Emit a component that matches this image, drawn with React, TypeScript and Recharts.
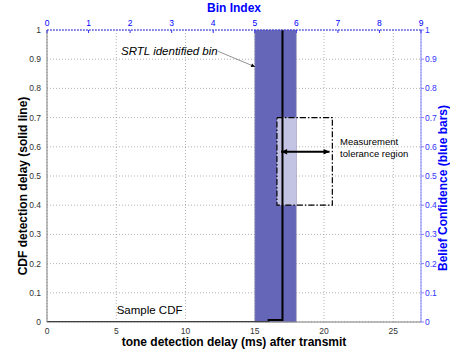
import React from 'react';
import {
  ComposedChart,
  Line,
  XAxis,
  YAxis,
  CartesianGrid,
  ReferenceArea,
  ReferenceLine,
  ReferenceDot,
  Label,
} from 'recharts';

// CDF of tone detection delay (solid line)
const delayMs = [0, 16, 16, 17, 17];
const cdfValues = [0, 0, 0.007, 0.007, 1];

// Belief confidence (blue bars)
const binIndex = [5];
const beliefConfidence = [1];
const msPerBin = 3;

// Ticks
const msTicks = [0, 5, 10, 15, 20, 25];
const binTicks = [0, 1, 2, 3, 4, 5, 6, 7, 8, 9];
const cdfTicks = [0, 0.1, 0.2, 0.3, 0.4, 0.5, 0.6, 0.7, 0.8, 0.9, 1];
const confTicks = [0, 0.1, 0.2, 0.3, 0.4, 0.5, 0.6, 0.7, 0.8, 0.9, 1];

// Annotations (data coordinates)
const toleranceX = [16.6, 20.6];
const toleranceY = [0.4, 0.7];
const toleranceArrowX = [16.9, 20.4];
const toleranceArrowY = [0.583, 0.583];
const srtlArrowX = [12.35, 15.02];
const srtlArrowY = [0.927, 0.874];
const srtlLabelPos = [5.34, 0.916];
const measLabelPos = [21.16, 0.606];
const sampleLabelPos = [5.03, 0.026];

const cdfData = delayMs.map((t, i) => ({ t, cdf: cdfValues[i] }));

const FONT = '"Liberation Sans", Arial, Helvetica, sans-serif';
const BLUE = '#0000ff';

const TopTick = (props: any) => {
  const { x, y, payload } = props;
  return (
    <g>
      <line x1={x} x2={x} y1={y} y2={y + 3} stroke="#3333ff" strokeWidth={1} />
      <text x={x} y={y - 4} textAnchor="middle" fontSize={8.5} fill={BLUE} fontFamily={FONT}>
        {payload.value}
      </text>
    </g>
  );
};

const makeArrow = (both: boolean, color: string, width: number, head: number) => (p: any) => {
  const { x1, y1, x2, y2 } = p;
  const ang = Math.atan2(y2 - y1, x2 - x1);
  const headPts = (hx: number, hy: number, a: number) => {
    const l = head;
    const w = head * 0.45;
    const bx = hx - l * Math.cos(a);
    const by = hy - l * Math.sin(a);
    const px = -Math.sin(a) * w;
    const py = Math.cos(a) * w;
    return `${hx},${hy} ${bx + px},${by + py} ${bx - px},${by - py}`;
  };
  return (
    <g>
      <line x1={x1} y1={y1} x2={x2} y2={y2} stroke={color} strokeWidth={width} />
      <polygon points={headPts(x2, y2, ang)} fill="#000" />
      {both && <polygon points={headPts(x1, y1, ang + Math.PI)} fill="#000" />}
    </g>
  );
};

const textShape = (lines: string[], size: number, italic: boolean, lh: number) => (p: any) => (
  <text x={p.cx} y={p.cy} fontSize={size} fontStyle={italic ? 'italic' : 'normal'} fontFamily={FONT} fill="#000">
    {lines.map((l, i) => (
      <tspan key={i} x={p.cx} dy={i === 0 ? 0 : lh}>
        {l}
      </tspan>
    ))}
  </text>
);

export default function App() {
  return (
    <div style={{ position: 'absolute', left: 0, top: 0, width: 450, height: 355, background: '#fff' }}>
      <ComposedChart
        width={450}
        height={355}
        data={cdfData}
        margin={{ top: 0, right: 0, bottom: 0, left: 0 }}
        style={{ fontFamily: FONT }}
      >
        <XAxis
          xAxisId="ms"
          dataKey="t"
          type="number"
          domain={[0, 27]}
          ticks={msTicks}
          allowDataOverflow
          height={33}
          tickLine={false}
          tickSize={5}
          tickMargin={1}
          axisLine={{ stroke: '#808080' }}
          tick={{ fontSize: 8.5, fill: '#333', fontFamily: FONT }}
          interval={0}
        >
          <Label
            content={(p: any) => {
              const vb = p.viewBox;
              return (
                <text x={vb.x + vb.width / 2} y={vb.y + 24} textAnchor="middle" fontWeight="bold" fontSize={12} fontFamily={FONT} fill="#000">
                  tone detection delay (ms) after transmit
                </text>
              );
            }}
          />
        </XAxis>
        <XAxis
          xAxisId="bin"
          orientation="top"
          dataKey={(d: any) => d.t / msPerBin}
          type="number"
          domain={[0, 9]}
          ticks={binTicks}
          allowDataOverflow
          height={30}
          tickLine={false}
          tickSize={0}
          tickMargin={0}
          axisLine={{ stroke: '#3333dd', strokeDasharray: '2 1' }}
          tick={<TopTick />}
          interval={0}
        >
          <Label
            content={() => (
              <text x={234} y={12} textAnchor="middle" fontWeight="bold" fontSize={12} fontFamily={FONT} fill={BLUE}>
                Bin Index
              </text>
            )}
          />
        </XAxis>
        <YAxis
          yAxisId="cdf"
          type="number"
          domain={[0, 1]}
          ticks={cdfTicks}
          allowDataOverflow
          width={47}
          tickLine={false}
          tickSize={3}
          tickMargin={3}
          axisLine={{ stroke: '#808080' }}
          tick={{ fontSize: 8.5, fill: '#333', fontFamily: FONT }}
          interval={0}
        >
          <Label
            content={() => (
              <text x={27} y={186} textAnchor="middle" fontWeight="bold" fontSize={12} fontFamily={FONT} fill="#000" transform="rotate(-90, 27, 186)">
                CDF detection delay (solid line)
              </text>
            )}
          />
        </YAxis>
        <YAxis
          yAxisId="conf"
          orientation="right"
          type="number"
          domain={[0, 1]}
          ticks={confTicks}
          allowDataOverflow
          width={29}
          tickLine={{ stroke: '#8080ff' }}
          tickSize={3}
          tickMargin={1}
          axisLine={{ stroke: '#8080ff' }}
          tick={{ fontSize: 8.5, fill: '#3333ff', fontFamily: FONT }}
          interval={0}
        >
          <Label
            content={() => (
              <text x={446.5} y={188} textAnchor="middle" fontWeight="bold" fontSize={12} fontFamily={FONT} fill={BLUE} transform="rotate(-90, 446.5, 188)">
                Belief Confidence (blue bars)
              </text>
            )}
          />
        </YAxis>

        {binIndex.map((b, i) => (
          <ReferenceArea
            key={`bin-${i}`}
            xAxisId="bin"
            yAxisId="conf"
            x1={b}
            x2={b + 1}
            y1={0}
            y2={beliefConfidence[i]}
            fill="#6666b8"
            fillOpacity={1}
            stroke="#9a9ab0"
            strokeWidth={0.6}
          />
        ))}
        <ReferenceArea
          xAxisId="ms"
          yAxisId="cdf"
          x1={toleranceX[0]}
          x2={(binIndex[0] + 1) * msPerBin}
          y1={toleranceY[0]}
          y2={toleranceY[1]}
          fill="#c3c3e3"
          fillOpacity={1}
          stroke="none"
        />

        <CartesianGrid xAxisId="ms" yAxisId="cdf" stroke="#a0a0a0" strokeDasharray="1 2" strokeWidth={0.8} />

        <ReferenceArea
          xAxisId="ms"
          yAxisId="cdf"
          x1={toleranceX[0]}
          x2={toleranceX[1]}
          y1={toleranceY[0]}
          y2={toleranceY[1]}
          fill="none"
          stroke="#000"
          strokeWidth={1.2}
          strokeDasharray="6 2 1.5 2"
        />

        <Line
          xAxisId="ms"
          yAxisId="cdf"
          dataKey="cdf"
          type="linear"
          stroke="#000"
          strokeWidth={2}
          dot={false}
          activeDot={false}
          isAnimationActive={false}
        />

        <ReferenceLine
          xAxisId="ms"
          yAxisId="cdf"
          segment={[
            { x: toleranceArrowX[0], y: toleranceArrowY[0] },
            { x: toleranceArrowX[1], y: toleranceArrowY[1] },
          ]}
          shape={makeArrow(true, '#000', 2, 6)}
        />
        <ReferenceLine
          xAxisId="ms"
          yAxisId="cdf"
          segment={[
            { x: srtlArrowX[0], y: srtlArrowY[0] },
            { x: srtlArrowX[1], y: srtlArrowY[1] },
          ]}
          shape={makeArrow(false, '#777', 0.8, 4)}
        />

        <ReferenceDot
          xAxisId="ms"
          yAxisId="cdf"
          x={srtlLabelPos[0]}
          y={srtlLabelPos[1]}
          r={1}
          shape={textShape(['SRTL identified bin'], 11.5, true, 0)}
        />
        <ReferenceDot
          xAxisId="ms"
          yAxisId="cdf"
          x={measLabelPos[0]}
          y={measLabelPos[1]}
          r={1}
          shape={textShape(['Measurement', 'tolerance region'], 9.5, false, 11.6)}
        />
        <ReferenceDot
          xAxisId="ms"
          yAxisId="cdf"
          x={sampleLabelPos[0]}
          y={sampleLabelPos[1]}
          r={1}
          shape={textShape(['Sample CDF'], 11.5, false, 0)}
        />
      </ComposedChart>
    </div>
  );
}
